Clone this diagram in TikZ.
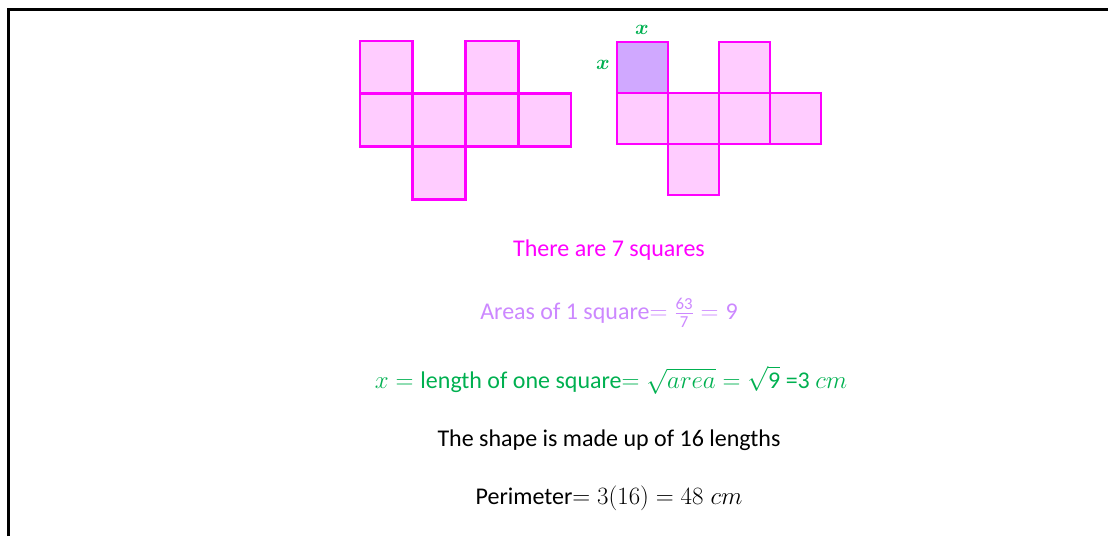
\documentclass[tikz,border=0pt]{standalone}
\usepackage{amsmath}
\usepackage{fontspec}
\setmainfont{Carlito}
\definecolor{mag}{HTML}{FF00FF}
\definecolor{magfill}{HTML}{FFCCFF}
\definecolor{purfill}{HTML}{D0A8FF}
\definecolor{purtext}{HTML}{CC88FF}
\definecolor{grn}{HTML}{00B050}
\tikzset{
  sq/.style={draw=mag, line width=2.8pt, fill=magfill},
  sqp/.style={draw=mag, line width=2.8pt, fill=purfill},
  frame/.style={line width=3pt, black},
  txt/.style={font=\fontsize{24}{28}\selectfont, inner sep=0pt, anchor=center},
  lbl/.style={text=grn, font=\fontsize{21}{24}\selectfont, inner sep=0pt}
}
\begin{document}
\begin{tikzpicture}[x=1pt,y=-1pt]
\useasboundingbox (0,0) rectangle (1108,536);
\coordinate (fbl) at (8,536);
\coordinate (ftl) at (8,9);
\coordinate (ftr) at (1108,9);
\draw[frame] (fbl) -- (ftl) -- (ftr);
% left shape
\def\s{52.75}
\foreach \c/\r in {0/0,2/0,0/1,1/1,2/1,3/1,1/2}{
  \draw[sq] (360+\c*\s,41+\r*\s) rectangle ++(\s,\s);
}
% right shape
\def\t{51}
\foreach \c/\r in {2/0,0/1,1/1,2/1,3/1,1/2}{
  \draw[sq] (617+\c*\t,42+\r*\t) rectangle ++(\t,\t);
}
\draw[sqp] (617,42) rectangle ++(\t,\t);
\node[lbl] (xt) at (642,30) {$\boldsymbol{x}$};
\node[lbl] (xl) at (603,65) {$\boldsymbol{x}$};
% text
\node[txt, text=mag] (l1) at (609,250) {There are 7 squares};
\node[txt, text=purtext] (l2) at (609,313) {Areas of 1 square$=\frac{\text{63}}{\text{7}}=\text{9}$};
\node[txt, text=grn] (l3) at (611,380) {$x=\mathrm{l}$ength of one square$=\sqrt{area}=\sqrt{\text{9}}$ =3 $cm$};
\node[txt] (l4) at (609,440) {The shape is made up of 16 lengths};
\node[txt] (l5) at (609,498) {Perimeter$=3(16)=48\;cm$};
\end{tikzpicture}
\end{document}
